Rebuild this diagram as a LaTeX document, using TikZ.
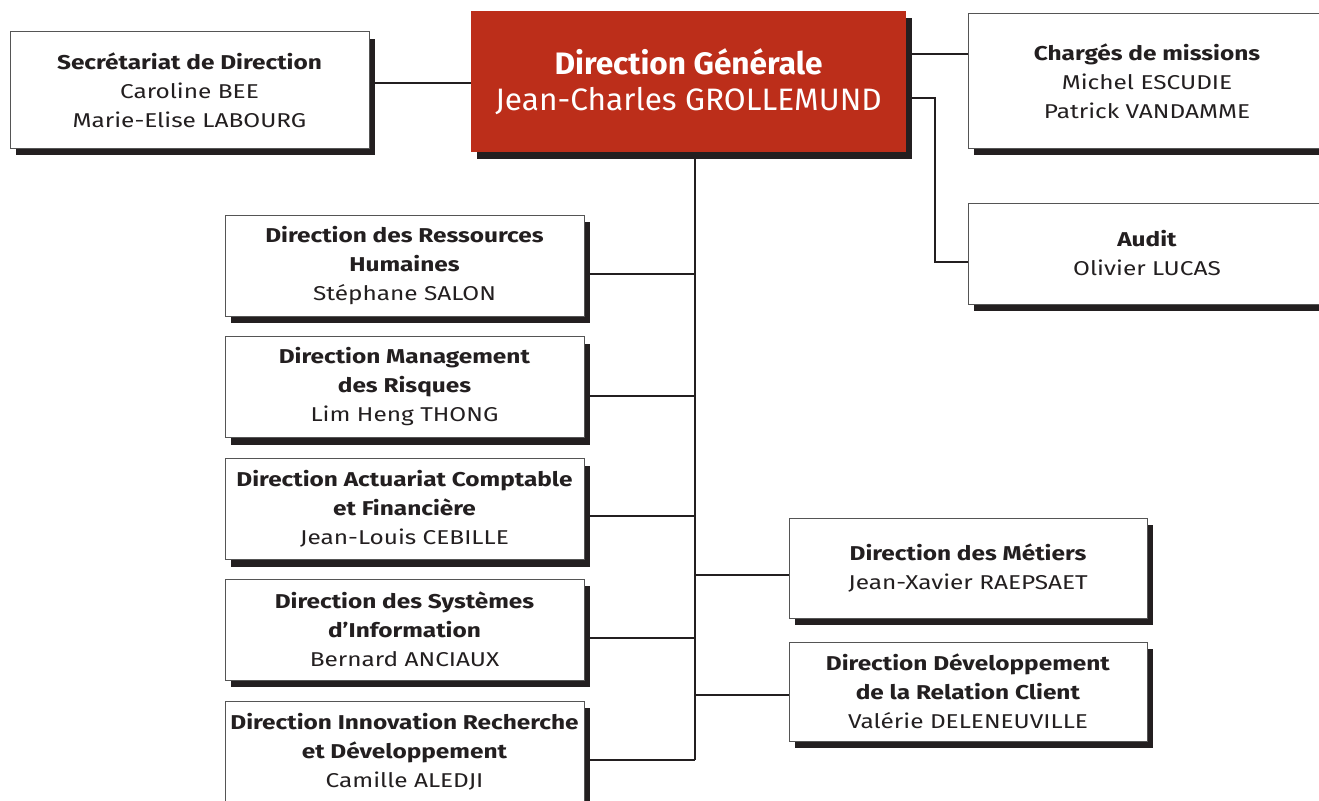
\documentclass[tikz,border=0pt]{standalone}
\usepackage{fontspec}
\setmainfont[FakeStretch=1.22]{Fira Sans}
\newfontfamily\dgfont[FakeStretch=1.02]{Fira Sans}
\usetikzlibrary{shadows}
\definecolor{ink}{HTML}{231F20}
\definecolor{dgred}{HTML}{BC2E1A}
\definecolor{edge}{HTML}{555555}
\tikzset{
  orgbox/.style={draw=edge, line width=1pt, fill=white, text=ink, align=center,
    inner sep=0pt, font=\fontsize{20}{29}\selectfont,
    drop shadow={shadow xshift=6pt, shadow yshift=-7pt, fill=ink, opacity=1}},
  dgbox/.style={orgbox, draw=none, fill=dgred, text=white, font=\dgfont\fontsize{31}{36}\selectfont},
  link/.style={draw=ink, line width=2pt}
}
\begin{document}
\begin{tikzpicture}[x=1pt,y=-1pt]
\useasboundingbox (0,0) rectangle (1319,800);
\coordinate (tbot) at (695,760);
\coordinate (aj) at (935,262);
\coordinate (ttop) at (695,140);
% connectors first (behind the boxes)
\draw[link] (ttop) -- (tbot);
\draw[link] (369,83) -- (471,83);
\draw[link] (900,54) -- (968,54);
\draw[link] (900,98) -| (aj) -- (968,262);
\foreach \yy in {274,396,516,638,760}{\draw[link] (584,\yy) -- (695,\yy);}
\foreach \yy in {575,695}{\draw[link] (695,\yy) -- (789,\yy);}
% boxes
\node[dgbox, minimum width=435pt, minimum height=141pt] (dg) at (688.5,81.5)
  {\textbf{Direction Générale}\\Jean-Charles GROLLEMUND};
\node[orgbox, minimum width=359pt, minimum height=116pt] (sec) at (189.5,90)
  {\textbf{Secrétariat de Direction}\\Caroline BEE\\Marie-Elise LABOURG};
\node[orgbox, minimum width=358pt, minimum height=134pt] (chg) at (1147,81)
  {\textbf{Chargés de missions}\\Michel ESCUDIE\\Patrick VANDAMME};
\node[orgbox, minimum width=358pt, minimum height=101pt] (aud) at (1147,253.5)
  {\textbf{Audit}\\Olivier LUCAS};
\node[orgbox, minimum width=359pt, minimum height=101pt] (drh) at (404.5,265.5)
  {\textbf{Direction des Ressources}\\\textbf{Humaines}\\Stéphane SALON};
\node[orgbox, minimum width=359pt, minimum height=101pt] (dmr) at (404.5,387)
  {\textbf{Direction Management}\\\textbf{des Risques}\\Lim Heng THONG};
\node[orgbox, minimum width=359pt, minimum height=101pt] (dac) at (404.5,509)
  {\textbf{Direction Actuariat Comptable}\\\textbf{et Financière}\\Jean-Louis CEBILLE};
\node[orgbox, minimum width=359pt, minimum height=101pt] (dsi) at (404.5,629.5)
  {\textbf{Direction des Systèmes}\\\textbf{d’Information}\\Bernard ANCIAUX};
\node[orgbox, minimum width=359pt, minimum height=101pt] (dir) at (404.5,751.5)
  {\textbf{Direction Innovation Recherche}\\\textbf{et Développement}\\Camille ALEDJI};
\node[orgbox, minimum width=358pt, minimum height=100pt] (met) at (968,568)
  {\textbf{Direction des Métiers}\\Jean-Xavier RAEPSAET};
\node[orgbox, minimum width=358pt, minimum height=99pt] (ddrc) at (968,691.5)
  {\textbf{Direction Développement}\\\textbf{de la Relation Client}\\Valérie DELENEUVILLE};
\end{tikzpicture}
\end{document}
